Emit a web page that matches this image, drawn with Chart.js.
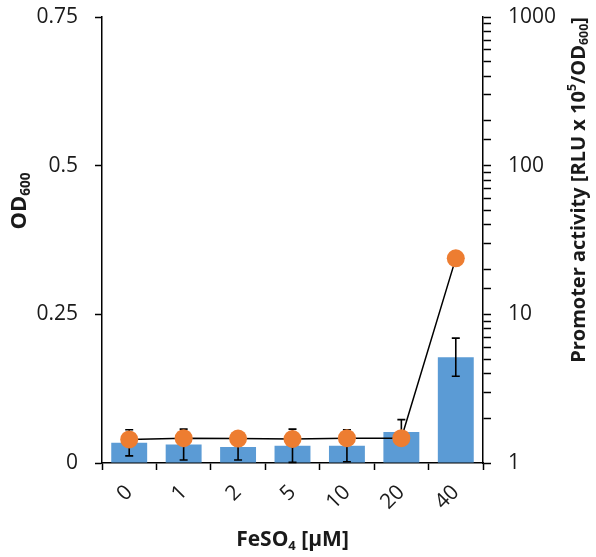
<!DOCTYPE html>
<html lang="en">
<head>
  <meta charset="UTF-8">
  <title>FeSO4 OD600 and promoter activity</title>
  <script src="https://cdn.jsdelivr.net/npm/chart.js"></script>
  <style>
    body { margin: 0; background: #fff; }
    #wrap { width: 596px; height: 557px; position: relative; }
  </style>
</head>
<body>
  <div id="wrap"><canvas id="chart"></canvas></div>

  <script>
    // data
    const concentrations = ['0', '1', '2', '5', '10', '20', '40'];
    const od600 = [0.034, 0.031, 0.027, 0.029, 0.029, 0.052, 0.178];
    const od600Err = [0.022, 0.026, 0.022, 0.028, 0.027, 0.021, 0.032];
    const promoterActivity = [1.44, 1.47, 1.46, 1.45, 1.47, 1.47, 23.8];
    const leftTicks = [0, 0.25, 0.5, 0.75];
    const rightTicks = [1, 10, 100, 1000];

    const FONT = "'Open Sans', sans-serif";
    const TXT = '#1a1a1a';

    // error bars drawn right after the bars (before the line goes on top)
    const errorBars = {
      id: 'errorBars',
      afterDatasetDraw(chart, args) {
        if (args.index !== 0) return;
        const ctx = chart.ctx;
        const y = chart.scales.y;
        const meta = chart.getDatasetMeta(0);
        ctx.save();
        ctx.strokeStyle = '#000';
        ctx.lineWidth = 1.6;
        meta.data.forEach((bar, i) => {
          const top = y.getPixelForValue(od600[i] + od600Err[i]);
          const bot = y.getPixelForValue(Math.max(0, od600[i] - od600Err[i]));
          ctx.beginPath();
          ctx.moveTo(bar.x, top); ctx.lineTo(bar.x, bot);
          ctx.moveTo(bar.x - 4, top); ctx.lineTo(bar.x + 4, top);
          ctx.moveTo(bar.x - 4, bot); ctx.lineTo(bar.x + 4, bot);
          ctx.stroke();
        });
        ctx.restore();
      }
    };

    // axis titles with sub/superscripts
    function richText(ctx, parts, size, cx, cy, angle) {
      ctx.save();
      ctx.translate(cx, cy);
      ctx.rotate(angle);
      let w = 0;
      parts.forEach(p => {
        ctx.font = 'bold ' + (p.s ? size * 0.62 : size) + 'px ' + FONT;
        p.w = ctx.measureText(p.t).width;
        w += p.w;
      });
      let x = -w / 2;
      ctx.fillStyle = TXT;
      ctx.textBaseline = 'middle';
      parts.forEach(p => {
        ctx.font = 'bold ' + (p.s ? size * 0.62 : size) + 'px ' + FONT;
        let dy = 0;
        if (p.s === 'sub') dy = size * 0.28;
        if (p.s === 'sup') dy = -size * 0.32;
        ctx.fillText(p.t, x, dy);
        x += p.w;
      });
      ctx.restore();
    }

    const axisTitles = {
      id: 'axisTitles',
      afterDraw(chart) {
        const ctx = chart.ctx;
        const a = chart.chartArea;
        richText(ctx, [{t: 'OD'}, {t: '600', s: 'sub'}], 22, 20, a.top + 184, -Math.PI / 2);
        richText(ctx, [{t: 'Promoter activity [RLU x 10'}, {t: '5', s: 'sup'}, {t: '/OD'}, {t: '600', s: 'sub'}, {t: ']'}],
          20, 579, a.top + 173, -Math.PI / 2);
        richText(ctx, [{t: 'FeSO'}, {t: '4', s: 'sub'}, {t: ' [µM]'}], 21, (a.left + a.right) / 2, 540, 0);
      }
    };

    function noPad(s) {
      s.paddingTop = 0; s.paddingBottom = 0;
      s.paddingLeft = 0; s.paddingRight = 0;
    }

    new Chart(document.getElementById('chart'), {
      type: 'bar',
      data: {
        labels: concentrations,
        datasets: [
          {
            label: 'OD600',
            data: od600,
            backgroundColor: '#5B9BD5',
            barPercentage: 0.66,
            categoryPercentage: 1,
            yAxisID: 'y',
            order: 1
          },
          {
            type: 'line',
            label: 'Promoter activity',
            data: promoterActivity,
            borderColor: '#000',
            borderWidth: 1.5,
            pointRadius: 9,
            pointBackgroundColor: '#ED7D31',
            pointBorderColor: '#ED7D31',
            pointBorderWidth: 0,
            yAxisID: 'y1',
            order: 0
          }
        ]
      },
      options: {
        responsive: true,
        maintainAspectRatio: false,
        animation: false,
        layout: { padding: { top: 17, left: 0, right: 0, bottom: 0 } },
        plugins: {
          legend: { display: false },
          tooltip: { enabled: false }
        },
        scales: {
          x: {
            grid: { drawOnChartArea: false, tickLength: 7, tickColor: '#000', tickWidth: 1.5 },
            border: { color: '#000', width: 1.5 },
            ticks: { color: TXT, font: { family: FONT, size: 21 }, minRotation: 45, maxRotation: 45, padding: 10 },
            afterFit(s) { s.height = 94; noPad(s); }
          },
          y: {
            position: 'left',
            min: 0,
            max: 0.75,
            afterBuildTicks(s) { s.ticks = leftTicks.map(v => ({ value: v })); },
            grid: { drawOnChartArea: false, tickLength: 7, tickColor: '#000', tickWidth: 1.5 },
            border: { color: '#000', width: 1.5 },
            ticks: { color: TXT, font: { family: FONT, size: 21 }, padding: 17, callback: v => String(v) },
            afterFit(s) { s.width = 102; noPad(s); }
          },
          y1: {
            type: 'logarithmic',
            position: 'right',
            min: 1,
            max: 1000,
            grid: { drawOnChartArea: false, tickLength: 8, tickColor: '#000', tickWidth: 1.5 },
            border: { color: '#000', width: 1.5 },
            ticks: {
              color: TXT,
              font: { family: FONT, size: 21 },
              padding: 17,
              autoSkip: false,
              callback: v => rightTicks.includes(v) ? String(v) : ''
            },
            afterFit(s) { s.width = 113; noPad(s); }
          }
        }
      },
      plugins: [errorBars, axisTitles]
    });
  </script>
</body>
</html>
